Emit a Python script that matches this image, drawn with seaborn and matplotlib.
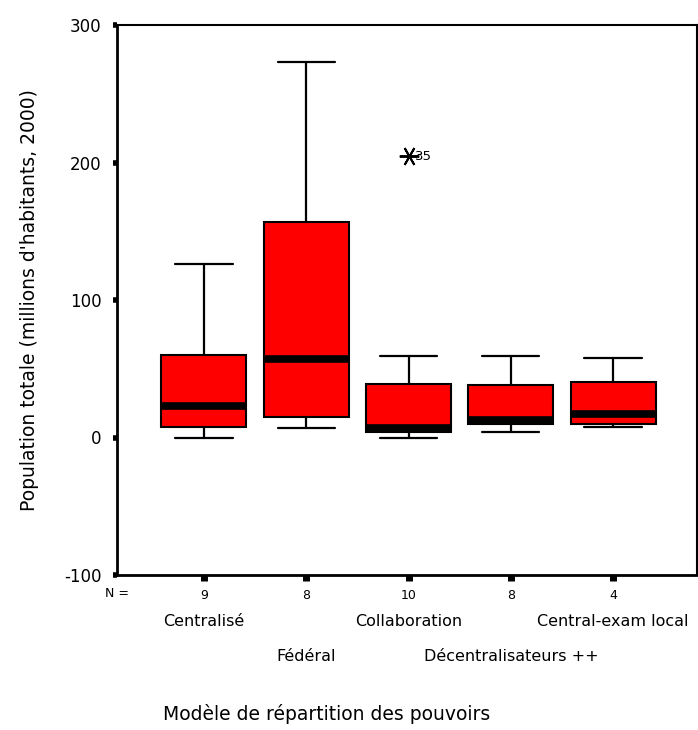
import numpy as np
import seaborn as sns
import matplotlib.pyplot as plt
from matplotlib.transforms import blended_transform_factory

# Values
categories = ['Centralisé', 'Fédéral', 'Collaboration', 'Décentralisateurs ++', 'Central-exam local']
n_counts = [9, 8, 10, 8, 4]
whisker_low = [0, 7, 0, 4, 8]
q1 = [7.5, 15, 4, 10, 10]
median = [23, 57, 7, 12.5, 17]
q3 = [60, 157, 39, 38, 40.5]
whisker_high = [126, 273, 59, 59, 58]
outliers = [[], [], [204.5], [], []]
outlier_labels = [[], [], ['35'], [], []]

yticks = [-100, 0, 100, 200, 300]

sns.set_style('white')
plt.rcParams['font.family'] = ['DejaVu Sans']
plt.rcParams['text.color'] = 'black'
plt.rcParams['axes.labelcolor'] = 'black'
plt.rcParams['xtick.color'] = 'black'
plt.rcParams['ytick.color'] = 'black'

stats = []
for i in range(len(categories)):
    stats.append({
        'label': categories[i],
        'whislo': whisker_low[i],
        'q1': q1[i],
        'med': median[i],
        'q3': q3[i],
        'whishi': whisker_high[i],
        'fliers': outliers[i],
    })

fig = plt.figure(figsize=(6.98, 7.30), dpi=100)
ax = fig.add_axes([117 / 698, 1 - 575 / 730, 580 / 698, 550 / 730])

ax.bxp(stats, positions=range(len(categories)), widths=0.83, capwidths=0.56,
       patch_artist=True, showfliers=True,
       boxprops=dict(facecolor='#ff0000', edgecolor='black', linewidth=1.5),
       medianprops=dict(color='black', linewidth=5.5, solid_capstyle='butt'),
       whiskerprops=dict(color='black', linewidth=1.6),
       capprops=dict(color='black', linewidth=1.6),
       flierprops=dict(marker=(6, 2, 90), markersize=14, markeredgecolor='black',
                       markeredgewidth=1.4, linestyle='none'))

# outlier case number
for i, vals in enumerate(outliers):
    for v, lab in zip(vals, outlier_labels[i]):
        ax.annotate(lab, (i, v), xytext=(5, 0), textcoords='offset points',
                    ha='left', va='center', fontsize=9.5)

ax.set_xlim(-0.85, 4.82)
ax.set_ylim(-100, 300)
ax.set_yticks(yticks)
ax.set_yticklabels([str(t) for t in yticks], fontsize=12)
ax.set_xticks(range(len(categories)))
ax.set_xticklabels([str(n) for n in n_counts], fontsize=9)
ax.tick_params(axis='y', left=True, direction='out', length=3, width=4, pad=8)
ax.tick_params(axis='x', bottom=True, direction='out', length=4, width=5, pad=6)

for side in ['left', 'bottom']:
    ax.spines[side].set_linewidth(2)
    ax.spines[side].set_color('black')
for side in ['top', 'right']:
    ax.spines[side].set_linewidth(1.5)
    ax.spines[side].set_color('black')

trans = blended_transform_factory(ax.transData, ax.transAxes)
ax.text(0, -0.033, 'N =', transform=ax.transAxes, ha='center', va='center', fontsize=9)
for i, cat in enumerate(categories):
    y = -0.085 if i % 2 == 0 else -0.149
    ax.text(i, y, cat, transform=trans, ha='center', va='center', fontsize=11.5)

ax.set_ylabel("Population totale (millions d'habitants, 2000)", fontsize=13.5, labelpad=18)
fig.text(327 / 698, 1 - 714 / 730, 'Modèle de répartition des pouvoirs',
         ha='center', va='center', fontsize=13.5)

fig.savefig('out.png', dpi=100)
